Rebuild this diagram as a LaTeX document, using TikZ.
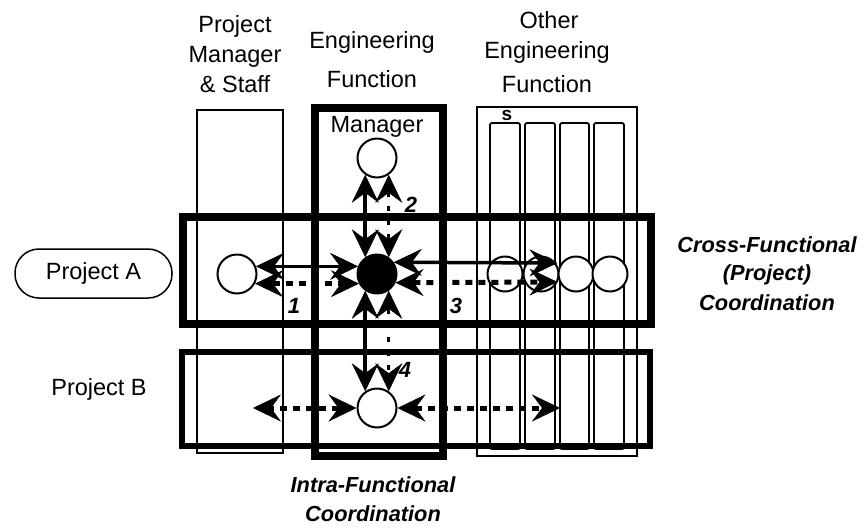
\documentclass[tikz,border=0pt]{standalone}
\usepackage{fontspec}
\setmainfont{Liberation Sans}
\usetikzlibrary{arrows.meta}
\begin{document}
\begin{tikzpicture}[x=1pt,y=-1pt,
  thinline/.style={line width=1.8pt},
  heavybox/.style={line width=7.5pt},
  lbl/.style={font=\fontsize{23.5}{28}\selectfont, anchor=base, inner sep=0pt},
  blbl/.style={font=\fontsize{21.8}{26}\selectfont\bfseries\itshape, anchor=base, inner sep=0pt},
  numlbl/.style={font=\fontsize{22}{26}\selectfont\bfseries\itshape, anchor=base, inner sep=0pt},
  person/.style={circle, draw, line width=2pt, fill=white, minimum size=39pt, inner sep=0pt},
  member/.style={person, minimum size=35pt},
  bighead/.style={{Stealth[length=28pt,width=27pt,inset=10pt,line width=0.5pt]}-{Stealth[length=28pt,width=27pt,inset=10pt,line width=0.5pt]}},
  solidarrow/.style={bighead, line width=3.5pt},
  dasharrow/.style={bighead, line width=5pt, dash pattern=on 7pt off 6pt},
  vdasharrow/.style={bighead, line width=3pt, dash pattern=on 5pt off 9pt}]
\useasboundingbox (0,0) rectangle (864,528);

% columns
\draw[thinline] (197,110) rectangle (283,453);
\draw[thinline] (477,107) rectangle (637,456);
\foreach \a/\b in {490/520,525/555,560/589,594/624}
  \draw[thinline, rounded corners=2pt] (\a,123) rectangle (\b,449);

% project bands and function box
\draw[heavybox] (183,217) rectangle (651,324);
\draw[line width=6.5pt] (182,352) rectangle (650,446);
\draw[heavybox] (315,108) rectangle (443,456);

% people
\node[person] (M) at (377,158) {};
\node[person] (L) at (237,274) {};
\node[person, fill=black] (F) at (377,274) {};
\node[member] (R1) at (505,274) {};
\node[member] (R2) at (541,274) {};
\node[member] (R3) at (576,274) {};
\node[member] (R4) at (610,274) {};
\node[person] (B) at (377,408) {};

% coordination arrows
\draw[solidarrow] (L.22) -- (F.158);
\draw[dasharrow] (L.-28) -- (F.-152);
\draw[solidarrow] (F.35) -- ([yshift=11pt]R3.west);
\draw[dasharrow] (F.-25) -- ([yshift=-8pt]R3.west);
\draw[solidarrow] (F.125) -- (M.235);
\draw[vdasharrow] (F.55) -- (M.305);
\draw[solidarrow] (F.235) -- (B.125);
\draw[vdasharrow] (F.305) -- (B.55);
\coordinate (bl) at (253,408);
\coordinate (br) at (560,408);
\draw[dasharrow] (B.west) -- (bl);
\draw[dasharrow] (B.east) -- (br);

% labels
\node[lbl] (h1) at (235,32) {Project};
\node[lbl] (h2) at (235,62) {Manager};
\node[lbl] (h3) at (235,92) {\& Staff};
\node[lbl] (h4) at (372,48) {Engineering};
\node[lbl] (h5) at (372,87) {Function};
\node[lbl] (h6) at (549,28.5) {Other};
\node[lbl] (h7) at (547,58) {Engineering};
\node[lbl] (h8) at (547,92) {Function};
\node[lbl] (mg) at (377,132) {Manager};
\node[font=\fontsize{19}{22}\selectfont\bfseries, anchor=base, inner sep=0pt] (s) at (507,120) {s};
\node[draw, line width=1.5pt, rounded corners=24pt, minimum width=157pt, minimum height=49pt, inner sep=0pt,
      font=\fontsize{23.5}{28}\selectfont] (pa) at (93.5,273.5) {Project A};
\node[lbl] (pb) at (99,395) {Project B};
\node[blbl] (c1) at (767,252) {Cross-Functional};
\node[blbl] (c2) at (767,280) {(Project)};
\node[blbl] (c3) at (767,310) {Coordination};
\node[blbl] (i1) at (373,492) {Intra-Functional};
\node[blbl] (i2) at (373,521) {Coordination};
\node[numlbl] (n1) at (294,313) {1};
\node[numlbl] (n2) at (411,212) {2};
\node[numlbl] (n3) at (456,313) {3};
\node[numlbl] (n4) at (405,377) {4};
\end{tikzpicture}
\end{document}
